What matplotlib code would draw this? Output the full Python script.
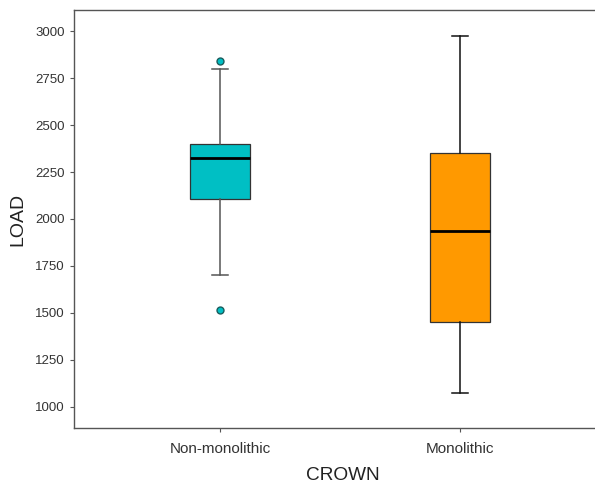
import matplotlib.pyplot as plt

# categories and box statistics
crowns = ["Non-monolithic", "Monolithic"]
lower_whisker = [1700, 1072]
q1 = [2105, 1450]
median = [2326, 1935]
q3 = [2400, 2350]
upper_whisker = [2798, 2975]
outliers = [[2842, 1518], []]
colors = ["#00BFC4", "#FF9900"]

plt.rcParams['font.family'] = ['Liberation Sans', 'DejaVu Sans']

fig = plt.figure(figsize=(5.95, 4.88), dpi=100)
ax = fig.add_axes([0.1244, 0.123, 0.894, 0.8565])

stats = []
for i in range(len(crowns)):
    stats.append(dict(whislo=lower_whisker[i], q1=q1[i], med=median[i],
                      q3=q3[i], whishi=upper_whisker[i], fliers=outliers[i],
                      label=crowns[i]))

whisk_cols = ["#555555", "#111111"]
for i, s in enumerate(stats):
    bp = ax.bxp([s], positions=[i + 1], widths=0.25, patch_artist=True,
                boxprops=dict(facecolor=colors[i], edgecolor="#333333", linewidth=0.9),
                medianprops=dict(color="black", linewidth=2),
                whiskerprops=dict(color=whisk_cols[i], linewidth=1.1),
                capprops=dict(color=whisk_cols[i], linewidth=1.1),
                capwidths=0.065,
                flierprops=dict(marker="o", markerfacecolor=colors[i],
                                markeredgecolor="#1a5c5c", markersize=5))

ax.set_xlim(0.39, 2.61)
ax.set_ylim(888, 3112)
ax.set_yticks([1000, 1250, 1500, 1750, 2000, 2250, 2500, 2750, 3000])
ax.set_xticks([1, 2])
ax.set_xticklabels(crowns)

for sp in ax.spines.values():
    sp.set_color("#555555")
    sp.set_linewidth(1.0)
ax.tick_params(axis="both", colors="#555555", length=3, labelcolor="#333333")
ax.tick_params(axis="y", labelsize=9.5)
ax.tick_params(axis="x", labelsize=11, pad=7)

ax.set_xlabel("CROWN", fontsize=13.7, color="#222222")
ax.set_ylabel("LOAD", fontsize=14, color="#222222")
ax.xaxis.set_label_coords((343 - 74) / (0.894 * 595), -0.093)
ax.yaxis.set_label_coords(-0.09, 0.5)

fig.savefig("out.png", dpi=100)
